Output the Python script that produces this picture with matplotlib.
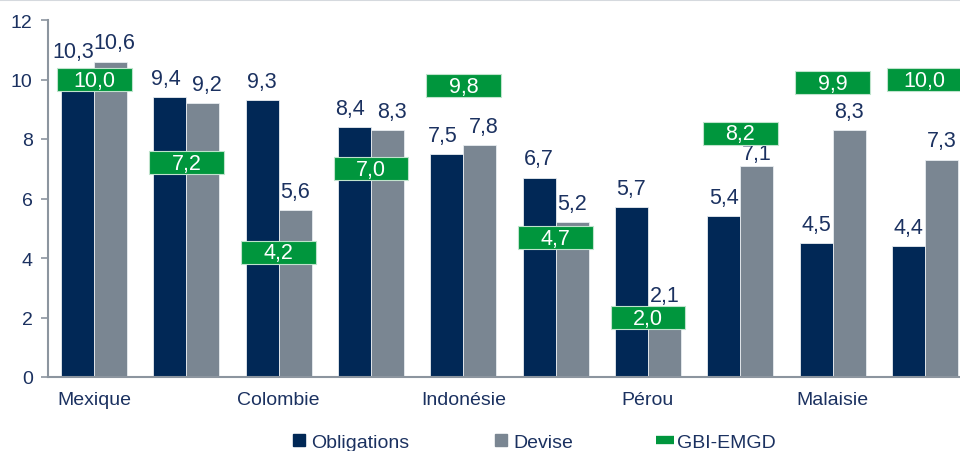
import numpy as np
import matplotlib.pyplot as plt
from matplotlib.lines import Line2D

plt.rcParams['font.family'] = ['Liberation Sans', 'DejaVu Sans']

countries = ['Mexique', '', 'Colombie', '', 'Indonésie', '', 'Pérou', '', 'Malaisie', '']
obligations = [10.3, 9.4, 9.3, 8.4, 7.5, 6.7, 5.7, 5.4, 4.5, 4.4]
devise = [10.6, 9.2, 5.6, 8.3, 7.8, 5.2, 2.1, 7.1, 8.3, 7.3]
gbi = [10.0, 7.2, 4.2, 7.0, 9.8, 4.7, 2.0, 8.2, 9.9, 10.0]
yticks = [0, 2, 4, 6, 8, 10, 12]

navy = '#012856'
grey = '#7A8692'
green = '#00963D'
txt = '#1B3160'
axcol = '#8C959F'

def fmt(v):
    return f'{v:.1f}'.replace('.', ',')

fig = plt.figure(figsize=(9.6, 4.52), dpi=100)
ax = fig.add_axes([48 / 960, 74 / 452, 923 / 960, 357 / 452])

x = np.arange(len(countries))
w = 0.357
bh = 0.77  # height of the green GBI boxes, in data units
ax.bar(x - w / 2, obligations, w, color=navy, edgecolor='#E8ECF0', linewidth=0.6)
ax.bar(x + w / 2, devise, w, color=grey, edgecolor='#E8ECF0', linewidth=0.6)

def label_offset(v, g):
    # squeeze the label down when the GBI box sits just above the bar
    gap = (g - bh / 2) - v
    return 1 if 0 < gap < 0.8 else 6

# value labels, pushed apart a little when the two bars are about the same height
for xi, o, d, g in zip(x, obligations, devise, gbi):
    push = 3 if abs(o - d) < 0.5 else 0
    ax.annotate(fmt(o), (xi - w / 2, o), xytext=(-push, label_offset(o, g)),
                textcoords='offset points', ha='center', va='bottom',
                fontsize=15.5, color=txt)
    ax.annotate(fmt(d), (xi + w / 2, d), xytext=(push, label_offset(d, g)),
                textcoords='offset points', ha='center', va='bottom',
                fontsize=15.5, color=txt)

# GBI-EMGD markers as flat green boxes
ax.bar(x, [bh] * len(gbi), 0.81, bottom=np.array(gbi) - bh / 2,
       color=green, edgecolor='#BFE3CC', linewidth=0.8, zorder=3)
for xi, v in zip(x, gbi):
    ax.text(xi, v - 0.03, fmt(v), ha='center', va='center', fontsize=15.5,
            color='white', zorder=4)

ax.set_xlim(-0.5, len(countries) - 0.5)
ax.set_ylim(0, 12)
ax.set_yticks(yticks)
ax.set_xticks(x)
ax.set_xticklabels(countries)
ax.tick_params(axis='y', labelsize=14, labelcolor=txt, color=axcol, length=5, width=1.2, pad=6)
ax.tick_params(axis='x', labelsize=14, labelcolor=txt, length=0, pad=10)
for s in ['top', 'right']:
    ax.spines[s].set_visible(False)
for s in ['left', 'bottom']:
    ax.spines[s].set_color(axcol)
    ax.spines[s].set_linewidth(1.5)

handles = [
    Line2D([], [], marker='s', markersize=9, linestyle='none', color=navy),
    Line2D([], [], marker='s', markersize=9, linestyle='none', color=grey),
    Line2D([], [], color=green, linewidth=6, solid_capstyle='butt'),
]
fig.legend(handles, ['Obligations', 'Devise', 'GBI-EMGD'], loc='center',
           bbox_to_anchor=(533 / 960, 1 - 443 / 452), ncol=3, frameon=False,
           fontsize=14, labelcolor=txt, handlelength=0.9, handletextpad=0.15,
           columnspacing=4.3, borderpad=0)

fig.add_artist(Line2D([0, 1], [0.998, 0.998], color='#D5D9DE', linewidth=1.5))

fig.savefig('out.png', dpi=100)
